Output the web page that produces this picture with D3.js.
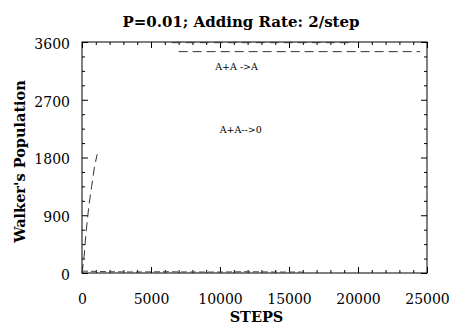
<!DOCTYPE html>
<html><head><meta charset="utf-8">
<script src="https://cdn.jsdelivr.net/npm/d3@7/dist/d3.min.js"></script>
<style>body{margin:0;background:#fff}svg{display:block}</style>
</head><body>
<script>
// ---- data ----
const title = "P=0.01; Adding Rate: 2/step";
const xLabel = "STEPS";
const yLabel = "Walker's Population";
const xTicks = [0, 5000, 10000, 15000, 20000, 25000];
const yTicks = [0, 900, 1800, 2700, 3600];
const seriesNames = ["A+A ->A", "A+A-->0"];
// series 1 (A+A ->A): early ramp, then saturation near the top (null = gap, faint in scan)
const stepsA = [0, 150, 300, 500, 700, 900, 1100, 1300, 7000, 9000, 11000, 12000, 16000, 24500, 25000, 6500, 12500, 19500];
const popA   = [0, 250, 650, 1050, 1350, 1650, 1850, null, 3450, 3450, 3450, 3450, 3450, 3450, null, 3590, 3590, 3590];
// series 2 (A+A-->0): stays near zero
const stepsB = [0, 2000, 4000, 6000, 8000, 10000, 12000, 14000, 16000];
const popB   = [30, 20, 15, 20, 15, 15, 20, 15, 15];
const labelPos = [[11200, 3160], [11500, 2180]];

const W = 454, H = 325;
const m = {l: 82, r: 27, t: 42, b: 52};
const svg = d3.select("body").append("svg").attr("width", W).attr("height", H);
const x = d3.scaleLinear().domain([0, 25000]).range([m.l, W - m.r]);
const y = d3.scaleLinear().domain([0, 3600]).range([H - m.b, m.t]);
const serif = "'DejaVu Serif', 'Liberation Serif', serif";

// frame
svg.append("rect").attr("x", m.l).attr("y", m.t).attr("width", W - m.r - m.l).attr("height", H - m.b - m.t)
  .attr("fill", "none").attr("stroke", "#000").attr("stroke-width", 1);

const xMinor = d3.range(0, 25001, 1000).filter(v => v % 5000);
const yMinor = d3.range(0, 3601, 225).filter(v => v % 900);
function axes(major, minor, scale, orient, pos) {
  const ax = orient(scale).tickValues(major).tickSizeInner(-6).tickSizeOuter(0).tickFormat("");
  const axm = orient(scale).tickValues(minor).tickSizeInner(-3).tickSizeOuter(0).tickFormat("");
  [ax, axm].forEach(a => {
    const gg = svg.append("g").attr("transform", pos).call(a);
    gg.select(".domain").remove();
    gg.selectAll("line").attr("stroke", "#000");
  });
}
axes(xTicks, xMinor, x, d3.axisBottom, `translate(0,${H - m.b})`);
axes(xTicks, xMinor, x, d3.axisTop, `translate(0,${m.t})`);
axes(yTicks, yMinor, y, d3.axisLeft, `translate(${m.l},0)`);
axes(yTicks, yMinor, y, d3.axisRight, `translate(${W - m.r},0)`);

// tick labels
const xl = svg.append("g").attr("transform", `translate(0,${H - m.b})`)
  .call(d3.axisBottom(x).tickValues(xTicks).tickSize(0).tickPadding(21).tickFormat(d3.format("d")));
xl.select(".domain").remove();
xl.selectAll("text").attr("font-family", serif).attr("font-size", 14).attr("fill", "#000");
const yl = svg.append("g").attr("transform", `translate(${m.l},0)`)
  .call(d3.axisLeft(y).tickValues(yTicks).tickSize(0).tickPadding(12).tickFormat(d3.format("d")));
yl.select(".domain").remove();
yl.selectAll("text").attr("font-family", serif).attr("font-size", 14).attr("fill", "#000").attr("dy", "0.45em");

// data lines
const pts = (s, v) => s.map((d, i) => [d, v[i]]);
const line = d3.line().defined(d => d[1] !== null).x(d => x(d[0])).y(d => y(d[1]));
svg.append("path").datum(pts(stepsA, popA))
  .attr("d", line).attr("fill", "none").attr("stroke", "#333").attr("stroke-width", 1)
  .attr("stroke-dasharray", "9,5");
svg.append("path").datum(pts(stepsB, popB))
  .attr("d", line).attr("fill", "none").attr("stroke", "#444").attr("stroke-width", 1)
  .attr("stroke-dasharray", "6,3");

// annotations
seriesNames.forEach((n, i) => {
  svg.append("text").attr("x", x(labelPos[i][0])).attr("y", y(labelPos[i][1]))
    .attr("text-anchor", "middle").attr("font-family", serif).attr("font-size", 9.5).text(n);
});

// titles
svg.append("text").attr("x", 241).attr("y", 27).attr("text-anchor", "middle")
  .attr("font-family", serif).attr("font-weight", "bold").attr("font-size", 15).text(title);
svg.append("text").attr("x", x(12500) + 2).attr("y", 322).attr("text-anchor", "middle")
  .attr("font-family", serif).attr("font-weight", "bold").attr("font-size", 14.5).text(xLabel);
svg.append("text").attr("transform", `translate(25,${(m.t + H - m.b) / 2 + 4}) rotate(-90)`).attr("text-anchor", "middle")
  .attr("font-family", serif).attr("font-weight", "bold").attr("font-size", 14.5).text(yLabel);
</script>
</body></html>
